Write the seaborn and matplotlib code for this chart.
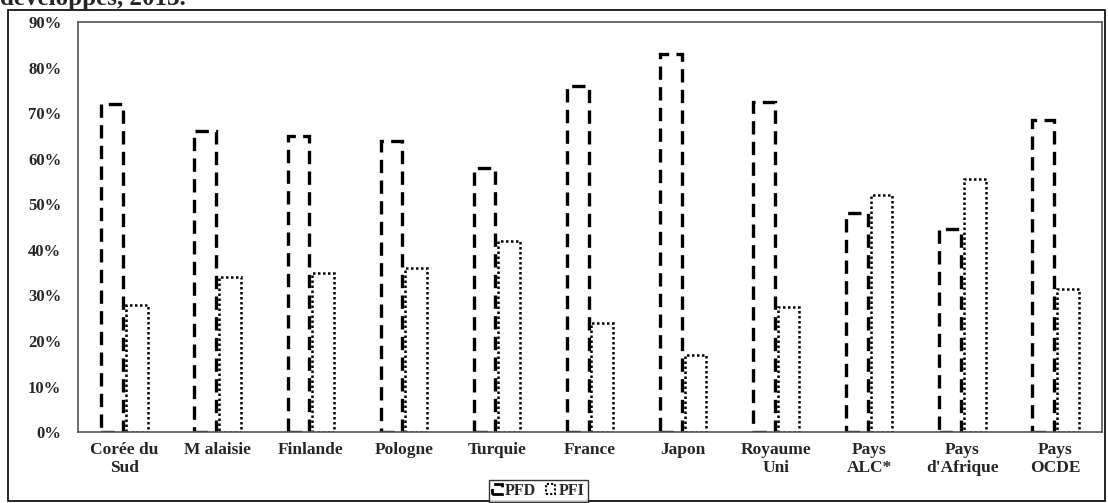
import pandas as pd
import numpy as np
import matplotlib.pyplot as plt
import seaborn as sns
from matplotlib.patches import Rectangle, Patch
from matplotlib.ticker import PercentFormatter

# Data
pays = ['Corée du\nSud', 'M alaisie', 'Finlande', 'Pologne', 'Turquie', 'France',
        'Japon', 'Royaume\nUni', 'Pays\nALC*', 'Pays\nd\'Afrique', 'Pays\nOCDE']
pfd = [72, 66, 65, 64, 58, 76, 83, 72.5, 48, 44.5, 68.5]
pfi = [28, 34, 35, 36, 42, 24, 17, 27.5, 52, 55.5, 31.5]
series = ['PFD', 'PFI']

df = pd.DataFrame({'pays': pays * 2,
                   'serie': ['PFD'] * len(pays) + ['PFI'] * len(pays),
                   'valeur': [v / 100 for v in pfd + pfi]})

sns.set_theme(style="white")
plt.rcParams['font.family'] = ['Liberation Serif', 'DejaVu Serif']
plt.rcParams['font.weight'] = 'bold'

fig = plt.figure(figsize=(11.08, 5.03), dpi=100)
ax = fig.add_axes([0.0704, 0.141, 0.9242, 0.815])

sns.barplot(data=df, x='pays', y='valeur', hue='serie', order=pays,
            palette=['white', 'white'], width=0.53, gap=0.12,
            edgecolor='black', linewidth=2.2, legend=False, ax=ax)

styles = [(0, (4, 2.2)), (0, (1, 1))]
widths = [2.4, 1.8]
for cont, ls, lw in zip(ax.containers, styles, widths):
    for p in cont:
        p.set_linestyle(ls)
        p.set_linewidth(lw)

ax.set_ylim(0, 0.9)
ax.set_yticks(np.arange(0, 0.91, 0.1))
ax.yaxis.set_major_formatter(PercentFormatter(1.0, decimals=0))
ax.set_xlim(-0.5, len(pays) - 0.5)
ax.set_xlabel('')
ax.set_ylabel('')
ax.tick_params(axis='y', length=0, pad=12, labelsize=12)
ax.tick_params(axis='x', length=0, pad=7, labelsize=12.5)
for lab in ax.get_xticklabels() + ax.get_yticklabels():
    lab.set_fontweight('bold')
for s in ax.spines.values():
    s.set_visible(True)
    s.set_color('#555555')
    s.set_linewidth(1.2)

handles = [Patch(facecolor='white', edgecolor='black', linestyle=styles[0], linewidth=2),
           Patch(facecolor='white', edgecolor='black', linestyle=styles[1], linewidth=1.5)]
leg = fig.legend(handles, series, loc='center', bbox_to_anchor=(0.486, 0.024), ncol=2,
                 frameon=True, fancybox=False, edgecolor='black', fontsize=11.5,
                 handlelength=0.6, handleheight=0.6, handletextpad=0.2,
                 columnspacing=0.6, borderpad=0.2, borderaxespad=0)
leg.get_frame().set_linewidth(1.0)
for t in leg.get_texts():
    t.set_fontweight('bold')

# outer frame and the truncated title line above it
fig.patches.append(Rectangle((0.007, 0.004), 0.99, 0.976, transform=fig.transFigure,
                             fill=False, edgecolor='black', linewidth=1.2))
fig.text(0.0, 1 - 5 / 503, 'développés, 2013.', fontsize=18, fontweight='bold',
         ha='left', va='baseline')

fig.savefig('out.png', dpi=100)
